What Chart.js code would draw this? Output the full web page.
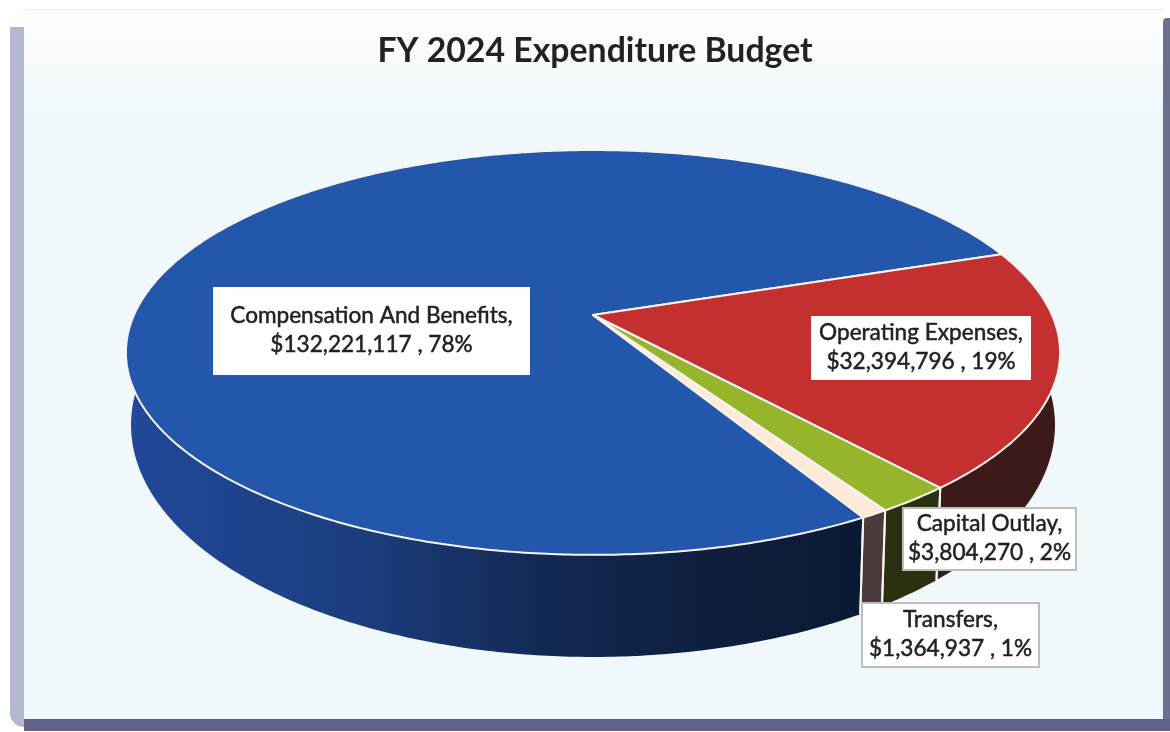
<!DOCTYPE html>
<html>
<head>
<meta charset="utf-8">
<title>FY 2024 Expenditure Budget</title>
<script src="https://cdn.jsdelivr.net/npm/chart.js@4"></script>
<style>
  html, body { margin: 0; padding: 0; background: #fff; }
  #wrap { position: relative; width: 1170px; height: 732px; overflow: hidden; }
  #panel {
    position: absolute; left: 24px; top: 9px; width: 1139px; height: 710px;
    background: linear-gradient(#fdfefe, #f1f8fc 14%, #f1f8fc);
    border-top: 1px solid #ececec;
    box-sizing: border-box;
  }
  #left { position: absolute; left: 10px; top: 27px; width: 14px; height: 700px; background: #b3b7d0; border-radius: 0 0 0 14px; }
  #corner { position: absolute; left: 13px; top: 9px; width: 14px; height: 18px; background: #fdfefe; border-radius: 12px 0 0 0; }
  #right { position: absolute; left: 1163px; top: 18px; width: 7px; height: 702px; background: #6d6f8e; border-radius: 4px 0 0 0; }
  #bottom { position: absolute; left: 24px; top: 719px; width: 1146px; height: 12px; background: #61618a; }
  canvas { position: absolute; left: 0; top: 0; }
</style>
</head>
<body>
<div id="wrap">
  <div id="left"></div>
  <div id="panel"></div>
  <div id="corner"></div>
  <div id="right"></div>
  <div id="bottom"></div>
  <canvas id="chart" width="1170" height="732"></canvas>
</div>
<script>
const categories = ['Compensation And Benefits', 'Operating Expenses', 'Capital Outlay', 'Transfers']
const amounts = [132221117, 32394796, 3804270, 1364937]
const percents = [78, 19, 2, 1]

const topColors = ['#2257ab', '#c4302f', '#95b52d', '#fdeadb']
const wallColors = [null, '#3d1a1a', '#2a3010', '#4b3b3b']

// white label boxes: left, top, right, bottom
const labelBoxes = [
  [213, 287, 530, 375],
  [811, 316, 1031, 380],
  [903, 508, 1076, 570],
  [862, 603, 1039, 667]
]

// perspective of the disc, top rim and bottom rim (u,v on the unit circle)
const topRim = { a: 459, c: 315, d: 137.2, k: -0.185 }
const bottomRim = { a: 454, c: 382, d: 153.4, k: -0.185 }
const centerX = 593

const project = (rim, angle) => {
  let u = Math.cos(angle)
  let v = Math.sin(angle)
  let w = 1 + rim.k * v
  return [centerX + rim.a * u / w, (rim.c + rim.d * v) / w]
}

const rimPoints = (rim, start, end) => {
  let pts = []
  let steps = Math.max(2, Math.ceil((end - start) / 0.01))
  for (let i = 0; i <= steps; i++) {
    pts.push(project(rim, start + (end - start) * i / steps))
  }
  return pts
}

const tracePath = (ctx, pts) => {
  ctx.beginPath()
  pts.forEach((p, i) => i ? ctx.lineTo(p[0], p[1]) : ctx.moveTo(p[0], p[1]))
  ctx.closePath()
}

const blueWall = (ctx) => {
  let g = ctx.createLinearGradient(127, 0, 870, 0)
  g.addColorStop(0, '#21489a')
  g.addColorStop(0.3, '#1c3e80')
  g.addColorStop(0.55, '#132a55')
  g.addColorStop(0.8, '#0e1e3c')
  g.addColorStop(1, '#0b1a33')
  return g
}

const seam = (ctx, angle) => {
  if (Math.sin(angle) <= 0) return
  let p = project(topRim, angle)
  let q = project(bottomRim, angle)
  ctx.beginPath()
  ctx.moveTo(p[0], p[1])
  ctx.lineTo(q[0], q[1])
  ctx.stroke()
}

// draws the extruded disc from the arc angles the doughnut controller computed
const pie3d = {
  id: 'pie3d',
  beforeDatasetDraw(chart) {
    let ctx = chart.ctx
    let arcs = chart.getDatasetMeta(0).data
    ctx.save()
    ctx.lineJoin = 'round'

    // side walls first, the top face hides the back of them
    arcs.forEach((arc, i) => {
      let pts = rimPoints(topRim, arc.startAngle, arc.endAngle)
        .concat(rimPoints(bottomRim, arc.startAngle, arc.endAngle).reverse())
      tracePath(ctx, pts)
      ctx.fillStyle = wallColors[i] || blueWall(ctx)
      ctx.fill()
    })

    // white seams where the walls meet at the front
    ctx.strokeStyle = '#f4f4f0'
    ctx.lineWidth = 2
    arcs.forEach((arc) => {
      seam(ctx, arc.startAngle)
      seam(ctx, arc.endAngle)
    })

    // top face
    arcs.forEach((arc, i) => {
      let pts = [[centerX, topRim.c]].concat(rimPoints(topRim, arc.startAngle, arc.endAngle))
      tracePath(ctx, pts)
      ctx.fillStyle = topColors[i]
      ctx.fill()
      ctx.strokeStyle = '#f7f4f0'
      ctx.lineWidth = 2
      ctx.stroke()
    })
    ctx.restore()
    return false
  },
  afterDatasetsDraw(chart) {
    let ctx = chart.ctx
    ctx.save()
    ctx.textAlign = 'center'
    ctx.textBaseline = 'middle'
    ctx.font = '22.6px Lato, sans-serif'
    ctx.lineWidth = 0.5
    categories.forEach((name, i) => {
      let [l, t, r, b] = labelBoxes[i]
      ctx.fillStyle = '#ffffff'
      ctx.fillRect(l, t, r - l, b - t)
      if (i > 1) {
        ctx.strokeStyle = '#bdbdbd'
        ctx.lineWidth = 2
        ctx.strokeRect(l, t, r - l, b - t)
        ctx.lineWidth = 0.5
      }
      let mid = (l + r) / 2
      let lineY = (t + b) / 2
      let lines = [name + ',', '$' + amounts[i].toLocaleString('en-US') + ' , ' + percents[i] + '%']
      ctx.fillStyle = '#222222'
      ctx.strokeStyle = '#222222'
      lines.forEach((line, n) => {
        let y = lineY + (n ? 14 : -15)
        ctx.fillText(line, mid, y)
        ctx.strokeText(line, mid, y)
      })
    })
    ctx.restore()
  }
}

new Chart(document.getElementById('chart'), {
  type: 'pie',
  data: {
    labels: categories,
    datasets: [{ data: amounts, backgroundColor: topColors }]
  },
  options: {
    responsive: false,
    animation: false,
    rotation: 150.4,
    layout: { padding: { left: 20 } },
    plugins: {
      legend: { display: false },
      tooltip: { enabled: false },
      title: {
        display: true,
        text: 'FY 2024 Expenditure Budget',
        color: '#222222',
        font: { family: 'Lato, sans-serif', size: 33.8, weight: 'bold' },
        padding: { top: 31, bottom: 10 }
      }
    }
  },
  plugins: [pie3d]
})
</script>
</body>
</html>
